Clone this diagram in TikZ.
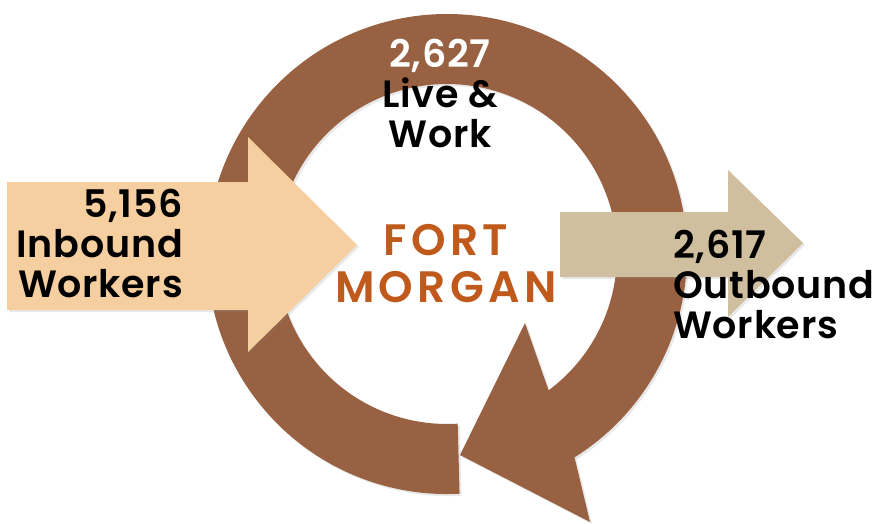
\documentclass[tikz,border=0pt]{standalone}
\usepackage{fontspec}
\setmainfont{Poppins}[BoldFont={Poppins SemiBold}]
\usepackage{tikz}
\usetikzlibrary{shadows}
\definecolor{ringbrown}{RGB}{152,97,66}
\definecolor{inboundtan}{RGB}{246,207,160}
\definecolor{outboundtan}{RGB}{208,191,158}
\definecolor{townorange}{RGB}{192,90,28}

\begin{document}
\begin{tikzpicture}[x=1pt,y=1pt,
  flow/.style={draw=none,drop shadow={opacity=0.18,shadow xshift=2pt,shadow yshift=-2pt}},
  countlabel/.style={font=\fontsize{38}{40}\selectfont\bfseries\addfontfeatures{LetterSpace=2},inner sep=0pt}]
  \useasboundingbox (0,0) rectangle (885,-523);
  \coordinate (C) at (447,-254);
  % Live & work loop
  \fill[flow,ringbrown] ([shift={(-87:240)}]C) arc[start angle=-87,end angle=-417.9,radius=240]
    -- (590,-522) -- (460,-455) -- (525,-323)
    -- ([shift={(-413.3:170)}]C) arc[start angle=-413.3,end angle=-86.4,radius=170] -- cycle;
  % Inbound arrow
  \fill[flow,inboundtan] (7,-182) -- (248,-182) -- (248,-137) -- (357,-245)
    -- (248,-352) -- (248,-310) -- (7,-310) -- cycle;
  % Outbound arrow
  \fill[flow,outboundtan] (560,-212) -- (728,-212) -- (728,-170) -- (803,-243)
    -- (728,-317) -- (728,-277) -- (560,-277) -- cycle;
  % Labels (anchored at the last baseline)
  \node[countlabel,anchor=base east,align=right] (inbound) at (183,-297)
    {5,156\\Inbound\\Workers};
  \node[countlabel,anchor=base,align=center] (livework) at (440,-147)
    {\textcolor{white}{2,627}\\Live \&\\Work};
  \node[countlabel,anchor=base west,align=left] (outbound) at (673,-338)
    {2,617\\Outbound\\Workers};
  \node[font=\fontsize{44}{47}\selectfont\bfseries\addfontfeatures{LetterSpace=10},
    text=townorange,inner sep=0pt,anchor=base,align=center] (town) at (446,-302)
    {FORT\\MORGAN};
\end{tikzpicture}
\end{document}
